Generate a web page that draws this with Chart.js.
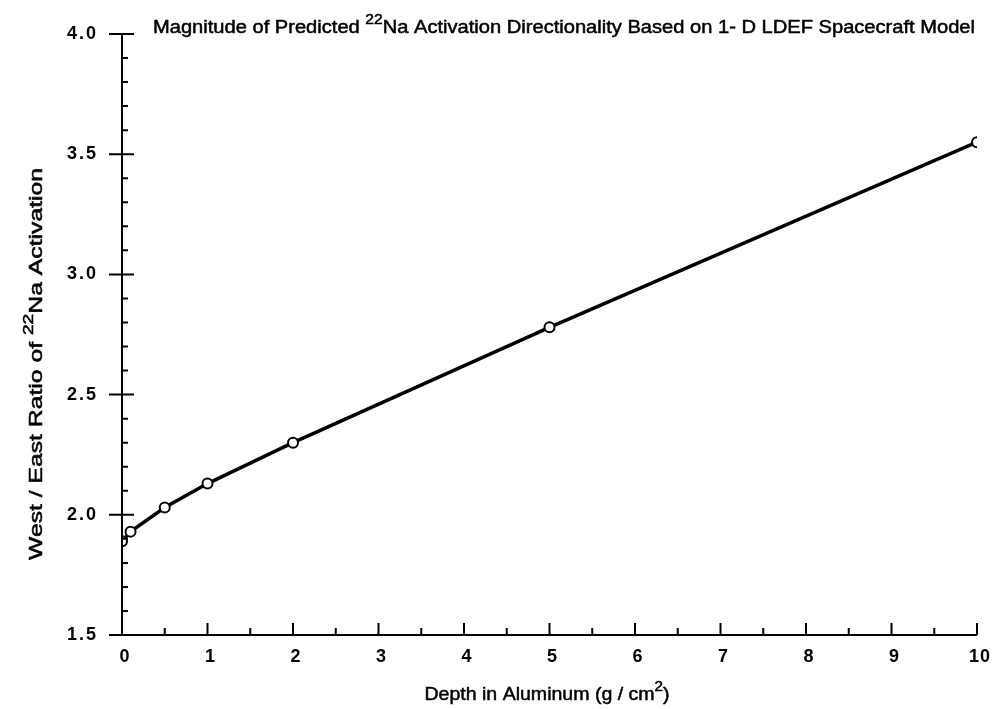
<!DOCTYPE html>
<html>
<head>
<meta charset="utf-8">
<script src="https://cdn.jsdelivr.net/npm/chart.js@4.4.1/dist/chart.umd.min.js"></script>
<style>
  html, body { margin: 0; padding: 0; background: #fff; }
  #wrap { width: 997px; height: 709px; }
</style>
</head>
<body>
<div id="wrap"><canvas id="ratioChart" width="997" height="709"></canvas></div>
<script>
// depth (g/cm2) vs west/east 22Na activation ratio
const depths = [0, 0.1, 0.5, 1, 2, 5, 10]
const ratios = [1.89, 1.93, 2.03, 2.13, 2.30, 2.78, 3.55]

const xTicks = [0, 1, 2, 3, 4, 5, 6, 7, 8, 9, 10]
const xMinorTicks = [0.5, 1.5, 2.5, 3.5, 4.5, 5.5, 6.5, 7.5, 8.5, 9.5]
const yTicks = [1.5, 2.0, 2.5, 3.0, 3.5, 4.0]
const yMinorTicks = [1.6, 1.7, 1.8, 1.9, 2.1, 2.2, 2.3, 2.4, 2.6, 2.7, 2.8, 2.9, 3.1, 3.2, 3.3, 3.4, 3.6, 3.7, 3.8, 3.9]

const FONT = '"Liberation Sans", Arial, Helvetica, sans-serif'

// text with superscript pieces: parts = [[text, isSup], ...], stretched to width w
function drawRich(ctx, parts, x, y, size, align, w) {
  const supSize = Math.round(size * 0.75)
  let total = 0
  parts.forEach(([t, sup]) => {
    ctx.font = `${sup ? supSize : size}px ${FONT}`
    total += ctx.measureText(t).width
  })
  const sx = w ? w / total : 1
  ctx.save()
  ctx.translate(align === 'center' ? x - total * sx / 2 : x, y)
  ctx.scale(sx, 1)
  ctx.textAlign = 'left'
  ctx.textBaseline = 'alphabetic'
  ctx.lineWidth = 0.5
  let cx = 0
  parts.forEach(([t, sup]) => {
    ctx.font = `${sup ? supSize : size}px ${FONT}`
    const ty = sup ? -size * 0.5 : 0
    ctx.fillText(t, cx, ty)
    ctx.strokeText(t, cx, ty)
    cx += ctx.measureText(t).width
  })
  ctx.restore()
}

const axesPlugin = {
  id: 'paperAxes',
  afterDatasetsDraw(chart) {
    const ctx = chart.ctx
    const xs = chart.scales.x
    const ys = chart.scales.y
    const x0 = xs.getPixelForValue(0)
    const y0 = ys.getPixelForValue(1.5)
    const yTop = ys.getPixelForValue(4.0)
    const xEnd = xs.getPixelForValue(10)

    ctx.save()
    ctx.strokeStyle = '#000'
    ctx.fillStyle = '#000'

    // tick labels
    ctx.font = `bold 18px ${FONT}`
    ctx.letterSpacing = '2px'
    ctx.textAlign = 'right'
    ctx.textBaseline = 'middle'
    yTicks.forEach(v => {
      ctx.fillText(v.toFixed(1), x0 - 24, ys.getPixelForValue(v))
    })
    ctx.letterSpacing = '1px'
    ctx.textAlign = 'center'
    xTicks.forEach(v => {
      ctx.fillText(String(v), xs.getPixelForValue(v) + 3, y0 + 22)
    })
    ctx.letterSpacing = '0px'

    // title
    drawRich(ctx, [['Magnitude of Predicted ', false], ['22', true], ['Na Activation Directionality Based on 1- D LDEF Spacecraft Model', false]], 153, 33, 18, 'left', 822)

    // x axis title
    drawRich(ctx, [['Depth in Aluminum (g / cm', false], ['2', true], [')', false]], 547, 700, 18, 'center', 245)

    // y axis title
    ctx.save()
    ctx.translate(42, 364)
    ctx.rotate(-Math.PI / 2)
    drawRich(ctx, [['West / East Ratio of ', false], ['22', true], ['Na Activation', false]], 0, 0, 18, 'center', 392)
    ctx.restore()

    ctx.lineWidth = 2
    ctx.lineCap = 'butt'

    // axis lines
    ctx.beginPath()
    ctx.moveTo(x0, yTop)
    ctx.lineTo(x0, y0)
    ctx.moveTo(x0 - 12, y0)
    ctx.lineTo(xEnd, y0)
    ctx.stroke()

    // y ticks: majors cross the axis, minors point inward
    ctx.beginPath()
    yTicks.forEach(v => {
      const py = ys.getPixelForValue(v)
      ctx.moveTo(x0 - 13, py)
      ctx.lineTo(x0 + 12, py)
    })
    yMinorTicks.forEach(v => {
      const py = ys.getPixelForValue(v)
      ctx.moveTo(x0, py)
      ctx.lineTo(x0 + 6, py)
    })
    // x ticks point upward
    xTicks.forEach(v => {
      const px = xs.getPixelForValue(v)
      ctx.moveTo(px, y0)
      ctx.lineTo(px, y0 - 12)
    })
    xMinorTicks.forEach(v => {
      const px = xs.getPixelForValue(v)
      ctx.moveTo(px, y0)
      ctx.lineTo(px, y0 - 7)
    })
    ctx.stroke()

    ctx.restore()
  }
}

new Chart(document.getElementById('ratioChart'), {
  type: 'scatter',
  data: {
    datasets: [{
      data: depths.map((d, i) => ({ x: d, y: ratios[i] })),
      showLine: true,
      borderColor: '#000',
      borderWidth: 3.5,
      pointRadius: 5,
      pointBorderWidth: 2,
      pointBackgroundColor: '#fff',
      pointBorderColor: '#000',
      tension: 0
    }]
  },
  options: {
    responsive: false,
    animation: false,
    layout: { padding: { left: 122, right: 20, top: 34, bottom: 74 } },
    plugins: { legend: { display: false }, tooltip: { enabled: false } },
    scales: {
      x: { type: 'linear', min: 0, max: 10, display: false },
      y: { type: 'linear', min: 1.5, max: 4.0, display: false }
    }
  },
  plugins: [axesPlugin]
})
</script>
</body>
</html>
